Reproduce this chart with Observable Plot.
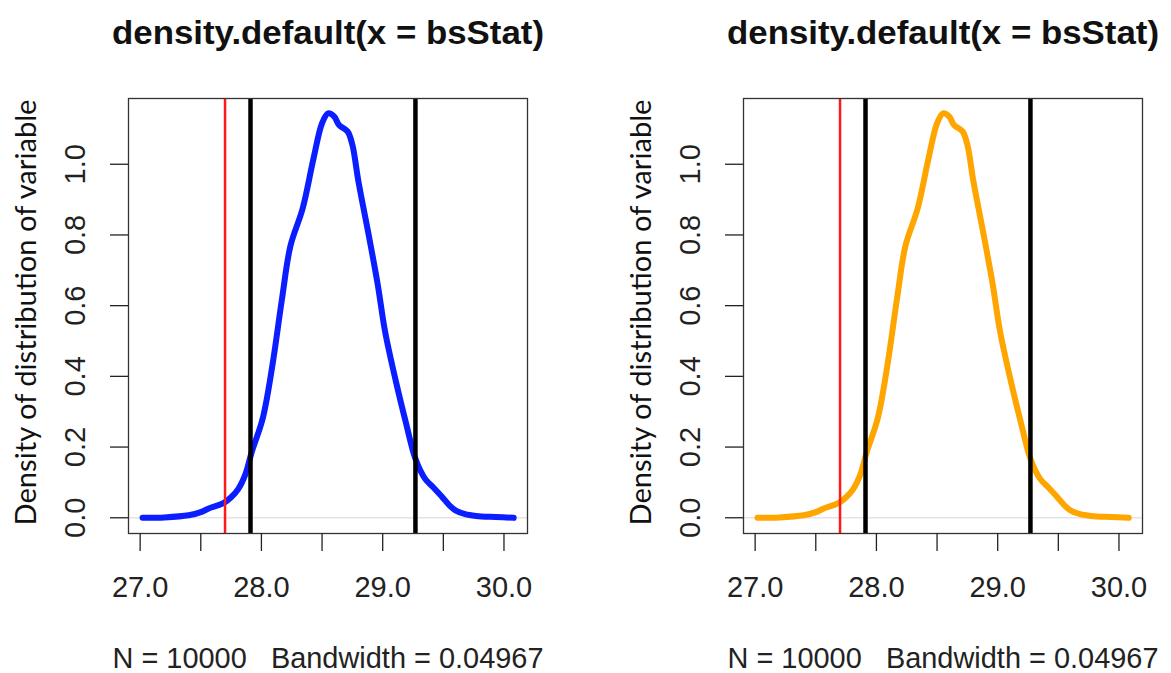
<!DOCTYPE html>
<html>
<head>
<meta charset="utf-8">
<script src="https://cdn.jsdelivr.net/npm/d3@7"></script>
<script src="https://cdn.jsdelivr.net/npm/@observablehq/plot@0.6"></script>
<style>
  html, body { margin: 0; padding: 0; background: #ffffff; }
  #wrap { position: relative; width: 1171px; height: 673px; overflow: hidden; background: #fff; }
  .panel { position: absolute; top: 0; width: 556px; height: 673px; }
  svg text { white-space: pre; }
</style>
</head>
<body>
<div id="wrap">
  <div class="panel" id="p0" style="left:0px"></div>
  <div class="panel" id="p1" style="left:615px"></div>
</div>
<script>
// ---- data ----
const densityX = [27.02, 27.20, 27.40, 27.50, 27.57, 27.64, 27.69, 27.75, 27.81, 27.87,
                  27.92, 28.01, 28.09, 28.17, 28.24, 28.34, 28.43, 28.50, 28.55, 28.60,
                  28.64, 28.71, 28.75, 28.80, 28.89, 28.96, 29.02, 29.11, 29.19, 29.27,
                  29.35, 29.42, 29.49, 29.55, 29.60, 29.68, 29.77, 29.93, 30.08];
const densityY = [0.000, 0.001, 0.007, 0.016, 0.027, 0.035, 0.042, 0.058, 0.082, 0.125,
                  0.186, 0.280, 0.430, 0.620, 0.770, 0.875, 1.017, 1.116, 1.144, 1.135,
                  1.111, 1.093, 1.055, 0.951, 0.790, 0.658, 0.526, 0.384, 0.271, 0.167,
                  0.110, 0.085, 0.059, 0.035, 0.021, 0.010, 0.005, 0.002, 0.000];
const panelColors = ["#0a1eff", "#ffa500"];
const observedValue = [27.70];          // red line
const intervalBounds = [27.91, 29.27];  // black lines
const xTickValues = [27.0, 27.5, 28.0, 28.5, 29.0, 29.5, 30.0];
const xTickLabels = [27.0, 28.0, 29.0, 30.0];
const yTickValues = [0.0, 0.2, 0.4, 0.6, 0.8, 1.0];
const titleText = "density.default(x = bsStat)";
const yTitleText = "Density of distribution of variable";
const captionText = "N = 10000   Bandwidth = 0.04967";

const curve = densityX.map((x, i) => ({x, y: densityY[i]}));
const FONT = "'Liberation Sans', Arial, Helvetica, sans-serif";

function panel(color) {
  const svg = Plot.plot({
    width: 556,
    height: 673,
    marginLeft: 128,
    marginRight: 29,
    marginTop: 98,
    marginBottom: 140,
    style: {fontFamily: FONT, color: "#222", background: "transparent", overflow: "visible"},
    x: {domain: [26.904, 30.194], label: null},
    y: {domain: [-0.0445, 1.186], label: null},
    marks: [
      Plot.ruleY([0], {stroke: "#e4e4e4", strokeWidth: 1.5}),
      Plot.line(curve, {x: "x", y: "y", stroke: color, strokeWidth: 6, curve: "catmull-rom", strokeLinejoin: "round", strokeLinecap: "round"}),
      Plot.ruleX(observedValue, {stroke: "#ff1a1a", strokeWidth: 2.5}),
      Plot.ruleX(intervalBounds, {stroke: "#000", strokeWidth: 4.5}),
      Plot.frame({stroke: "#333", strokeWidth: 1.3}),
      Plot.axisX(xTickValues, {anchor: "bottom", tickSize: 18, tickFormat: () => "", label: null, strokeWidth: 1.3}),
      Plot.axisX(xTickLabels, {anchor: "bottom", tickSize: 0, tickPadding: 43, tickFormat: d => d.toFixed(1), label: null, fontSize: 29, fontFamily: FONT}),
      Plot.axisY(yTickValues, {anchor: "left", tickSize: 18, tickFormat: () => "", label: null, strokeWidth: 1.3}),
      Plot.text(yTickValues, {y: d => d, text: d => d.toFixed(1), frameAnchor: "left", rotate: -90, dx: -44, lineAnchor: "bottom", textAnchor: "middle", fontSize: 29, fontFamily: FONT, fill: "#222"}),
      Plot.text([titleText], {frameAnchor: "top", dy: -55, lineAnchor: "bottom", fontSize: 33, fontWeight: "bold", fontFamily: FONT, fill: "#111"}),
      Plot.text([yTitleText], {frameAnchor: "left", rotate: -90, dx: -93, dy: -3.5, lineAnchor: "bottom", textAnchor: "middle", fontSize: 29, fontFamily: "Lato, 'Open Sans', sans-serif", fill: "#111"}),
      Plot.text([captionText], {frameAnchor: "bottom", dy: 134, lineAnchor: "bottom", fontSize: 29, fontFamily: FONT, fill: "#222"})
    ]
  });
  svg.querySelectorAll("text").forEach(t => {
    if (t.textContent === yTitleText) { t.setAttribute("textLength", "426"); t.setAttribute("lengthAdjust", "spacingAndGlyphs"); }
    if (t.textContent === titleText) { t.setAttribute("textLength", "432"); t.setAttribute("lengthAdjust", "spacingAndGlyphs"); }
    if (t.textContent === captionText) { t.setAttribute("textLength", "431"); t.setAttribute("lengthAdjust", "spacingAndGlyphs"); }
  });
  return svg;
}

document.getElementById("p0").appendChild(panel(panelColors[0]));
document.getElementById("p1").appendChild(panel(panelColors[1]));
</script>
</body>
</html>
